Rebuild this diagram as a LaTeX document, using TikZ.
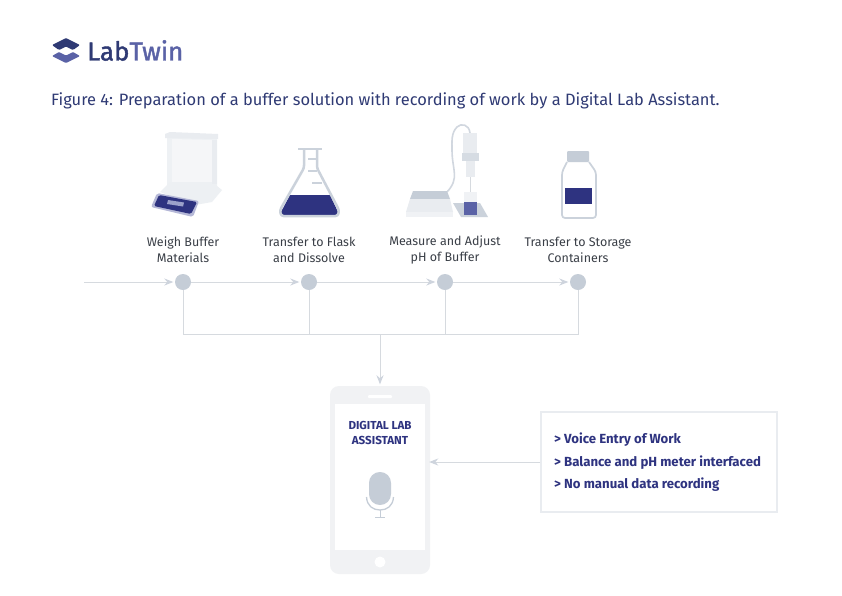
\documentclass[tikz,border=0pt]{standalone}
\usepackage{fontspec}
\setmainfont{Fira Sans}
\newfontfamily\logofont[FakeBold=1.6]{Fira Sans}
\usetikzlibrary{arrows.meta}
\definecolor{navy}{HTML}{2E3380}
\definecolor{dk}{HTML}{2F3A74}
\definecolor{midb}{HTML}{5A62A6}
\definecolor{ln}{HTML}{D6DADF}
\definecolor{dot}{HTML}{C5CDD7}
\definecolor{pale}{HTML}{E9ECF0}
\definecolor{phone}{HTML}{F1F2F4}
\definecolor{txt}{HTML}{3A3F47}
\tikzset{
  conn/.style={draw=ln,line width=1pt},
  arr/.style={conn,shorten >=1.5pt,-{Stealth[length=9pt,width=7pt,color=dot!85]}},
  stepdot/.style={circle,fill=dot,inner sep=0pt,minimum size=16pt},
  steplabel/.style={align=center,font=\fontsize{12.5}{16}\selectfont,text=txt,inner sep=0pt},
  boxline/.style={font=\fontsize{13.2}{15}\selectfont\bfseries,text=navy,anchor=west,inner sep=0pt},
  outline/.style={draw=dot!90,line width=2.5pt,line join=round},
}
\begin{document}
\begin{tikzpicture}[x=1pt,y=-1pt]
\useasboundingbox (0,0) rectangle (842,595);
\fill[white] (0,0) rectangle (842,595);
% logo
\fill[dk,rounded corners=1pt] (52,45) -- (66,38) -- (80,45) -- (73,50) -- (66,46.5) -- (59,50) -- cycle;
\fill[midb,rounded corners=1pt] (52,56) -- (59,52) -- (66,55.5) -- (73,52) -- (80,56) -- (66,63) -- cycle;
\node[anchor=west,inner sep=0pt,font=\logofont\fontsize{26}{26}\selectfont] (logo) at (87,50.5) {\textcolor{dk}{Lab}\textcolor{midb}{Twin}};
\node[anchor=west,inner sep=0pt,font=\fontsize{16.43}{20}\selectfont,text=dk] (title) at (51,101) {Figure 4: Preparation of a buffer solution with recording of work by a Digital Lab Assistant.};
% balance
\fill[pale!75] (167,133) -- (217,135) -- (217,190) -- (167,190) -- cycle;
\fill[pale!45] (172,139) -- (212,140) -- (212,184) -- (172,184) -- cycle;
\fill[pale] (165,134) -- (170,132) -- (218,134) -- (218,139) -- (165,138) -- cycle;
\fill[pale!80] (160,192) -- (170,182) -- (212,182) -- (222,190) -- (212,202) -- (195,205) -- cycle;
\fill[pale] (212,140) rectangle (217,184);
\fill[midb!45,rounded corners=2pt] (151,207) -- (157,193) -- (199,201) -- (193,217) -- cycle;
\fill[navy,rounded corners=1.5pt] (154,206) -- (159,195) -- (197,202) -- (191,214) -- cycle;
\fill[midb!60] (168,200) -- (184,202.5) -- (183,206.5) -- (167,204) -- cycle;
% flask
\fill[navy] (290,195) -- (330,195) -- (338,212) -- (336,215) -- (283,215) -- (281,212) -- cycle;
\draw[outline,rounded corners=2.5pt] (304,149) -- (304,168) -- (280,210) -- (281,216) -- (338,216) -- (339,210) -- (317,168) -- (317,149);
\draw[outline] (298,149) -- (322,149);
\draw[outline,line width=1.7pt] (308,159) -- (317,159) (308,171) -- (317,171) (312,183) -- (322,183);
% pH meter
\draw[dot!80,line width=1.6pt] (470,133) .. controls (469,124) and (461,123) .. (457,127) .. controls (451,133) and (452,142) .. (452,150) .. controls (452,170) and (460,178) .. (447,192);
\fill[pale] (463,133) rectangle (477,153);
\fill[dot!70] (462,153) rectangle (479,161);
\fill[pale] (466,161) rectangle (475,177);
\draw[ln,line width=0.8pt] (470.5,177) -- (470.5,192);
\fill[dot!90] (453,203) -- (480,203) -- (488,217) -- (461,217) -- cycle;
\fill[pale!70] (464,192) rectangle (477,203);
\fill[midb] (464,202) rectangle (477,215);
\fill[dot] (413,191) -- (447,191) -- (450,199) -- (410,199) -- cycle;
\fill[pale] (410,199) -- (450,199) -- (453,212) -- (406,212) -- cycle;
\fill[pale!70] (406,212) rectangle (453,217);
% bottle
\fill[dot,rounded corners=1pt] (567,151) rectangle (589,162);
\draw[outline,rounded corners=3pt,line width=1.7pt] (567,162) -- (562,172) -- (562,218) -- (596,218) -- (596,172) -- (589,162);
\fill[navy] (565,188) rectangle (592,204);
% flow
\node[stepdot] (n1) at (183,282) {};
\node[stepdot] (n2) at (309,282) {};
\node[stepdot] (n3) at (445,282) {};
\node[stepdot] (n4) at (578,282) {};
\coordinate (in) at (84,282);
\coordinate (b1) at (183,334);
\coordinate (b2) at (309,334);
\coordinate (b3) at (445,334);
\coordinate (b4) at (578,334);
\coordinate (bm) at (380,334);
\node[steplabel] (l1) at (183,249.5) {Weigh Buffer\\Materials};
\node[steplabel] (l2) at (309,249.5) {Transfer to Flask\\and Dissolve};
\node[steplabel] (l3) at (445,249.5) {Measure and Adjust\\pH of Buffer};
\node[steplabel] (l4) at (578,249.5) {Transfer to Storage\\Containers};
\draw[arr] (in) -- (n1);
\draw[arr] (n1) -- (n2);
\draw[arr] (n2) -- (n3);
\draw[arr] (n3) -- (n4);
\draw[conn] (n1) -- (b1) -- (b4) -- (n4);
\draw[conn] (n2) -- (b2);
\draw[conn] (n3) -- (b3);
% phone
\node[draw=none,fill=phone,rounded corners=9pt,minimum width=100pt,minimum height=188pt,inner sep=0pt] (ph) at (380,480) {};
\fill[white] (335,404) rectangle (425,550);
\fill[white,rounded corners=1pt] (368,395) rectangle (392,398);
\fill[white] (380,562) circle (5.5);
\draw[arr] (bm) -- (ph.north);
\node[align=center,inner sep=0pt,font=\fontsize{11.6}{14.5}\selectfont\bfseries,text=navy] (da) at (380,433) {DIGITAL LAB\\ASSISTANT};
% mic
\fill[dot,rounded corners=10.9pt] (369,472) rectangle (391,505);
\draw[dot,line width=1.3pt] (366.5,497) .. controls (367,506) and (373,510) .. (380,510) .. controls (387,510) and (393,506) .. (393.5,497);
\draw[dot,line width=1pt] (380,510) -- (380,517) (375,517) -- (385,517);
% box
\node[draw=pale,line width=1.3pt,fill=white,minimum width=236pt,minimum height=100pt,inner sep=0pt] (bx) at (659,462) {};
\draw[arr,shorten >=-1pt] (bx.west) -- (ph.east |- bx.west);
\node[boxline] (t1) at (554,440) {> Voice Entry of Work};
\node[boxline] (t2) at (554,462.5) {> Balance and pH meter interfaced};
\node[boxline] (t3) at (554,484.5) {> No manual data recording};
\end{tikzpicture}
\end{document}
